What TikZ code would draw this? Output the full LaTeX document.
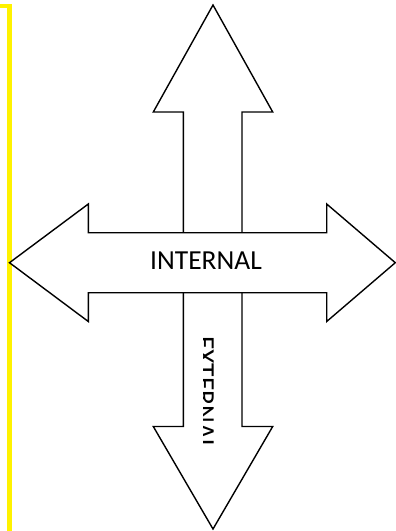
\documentclass[tikz,border=0pt]{standalone}
\usepackage{fontspec}
\setmainfont{Carlito}
\begin{document}
\begin{tikzpicture}[x=1pt,y=-1pt,
  arrowshape/.style={draw=black,fill=white,line width=1.4pt,line join=miter},
  bar/.style={fill=yellow,draw=none},
  lbl/.style={font=\fontsize{27.5}{27.5}\selectfont,inner sep=0pt}]
\useasboundingbox (0,0) rectangle (396,531);
% yellow bar
\fill[bar] (0,4) rectangle (12,8);
\fill[bar] (7,4) rectangle (12,531);
% vertical double arrow
\draw[arrowshape] (213,5) -- (272.7,112) -- (242,112) -- (242,426.5) -- (272.7,426.5)
  -- (213,529) -- (153.3,426.5) -- (183.3,426.5) -- (183.3,112) -- (153.3,112) -- cycle;
% horizontal double arrow
\draw[arrowshape] (9.5,262.7) -- (88.3,204) -- (88.3,232.7) -- (326.7,232.7) -- (326.7,204)
  -- (395.3,262.7) -- (326.7,321.5) -- (326.7,292.7) -- (88.3,292.7) -- (88.3,321.5) -- cycle;
% labels
\node[lbl,anchor=base] (int) at (206,269.3) {INTERNAL};
\begin{scope}
\clip (203,330) rectangle (225,475);
\node[lbl,anchor=base west,rotate=-90] (ext) at (196,336) {EXTERNAL};
\end{scope}
\end{tikzpicture}
\end{document}
